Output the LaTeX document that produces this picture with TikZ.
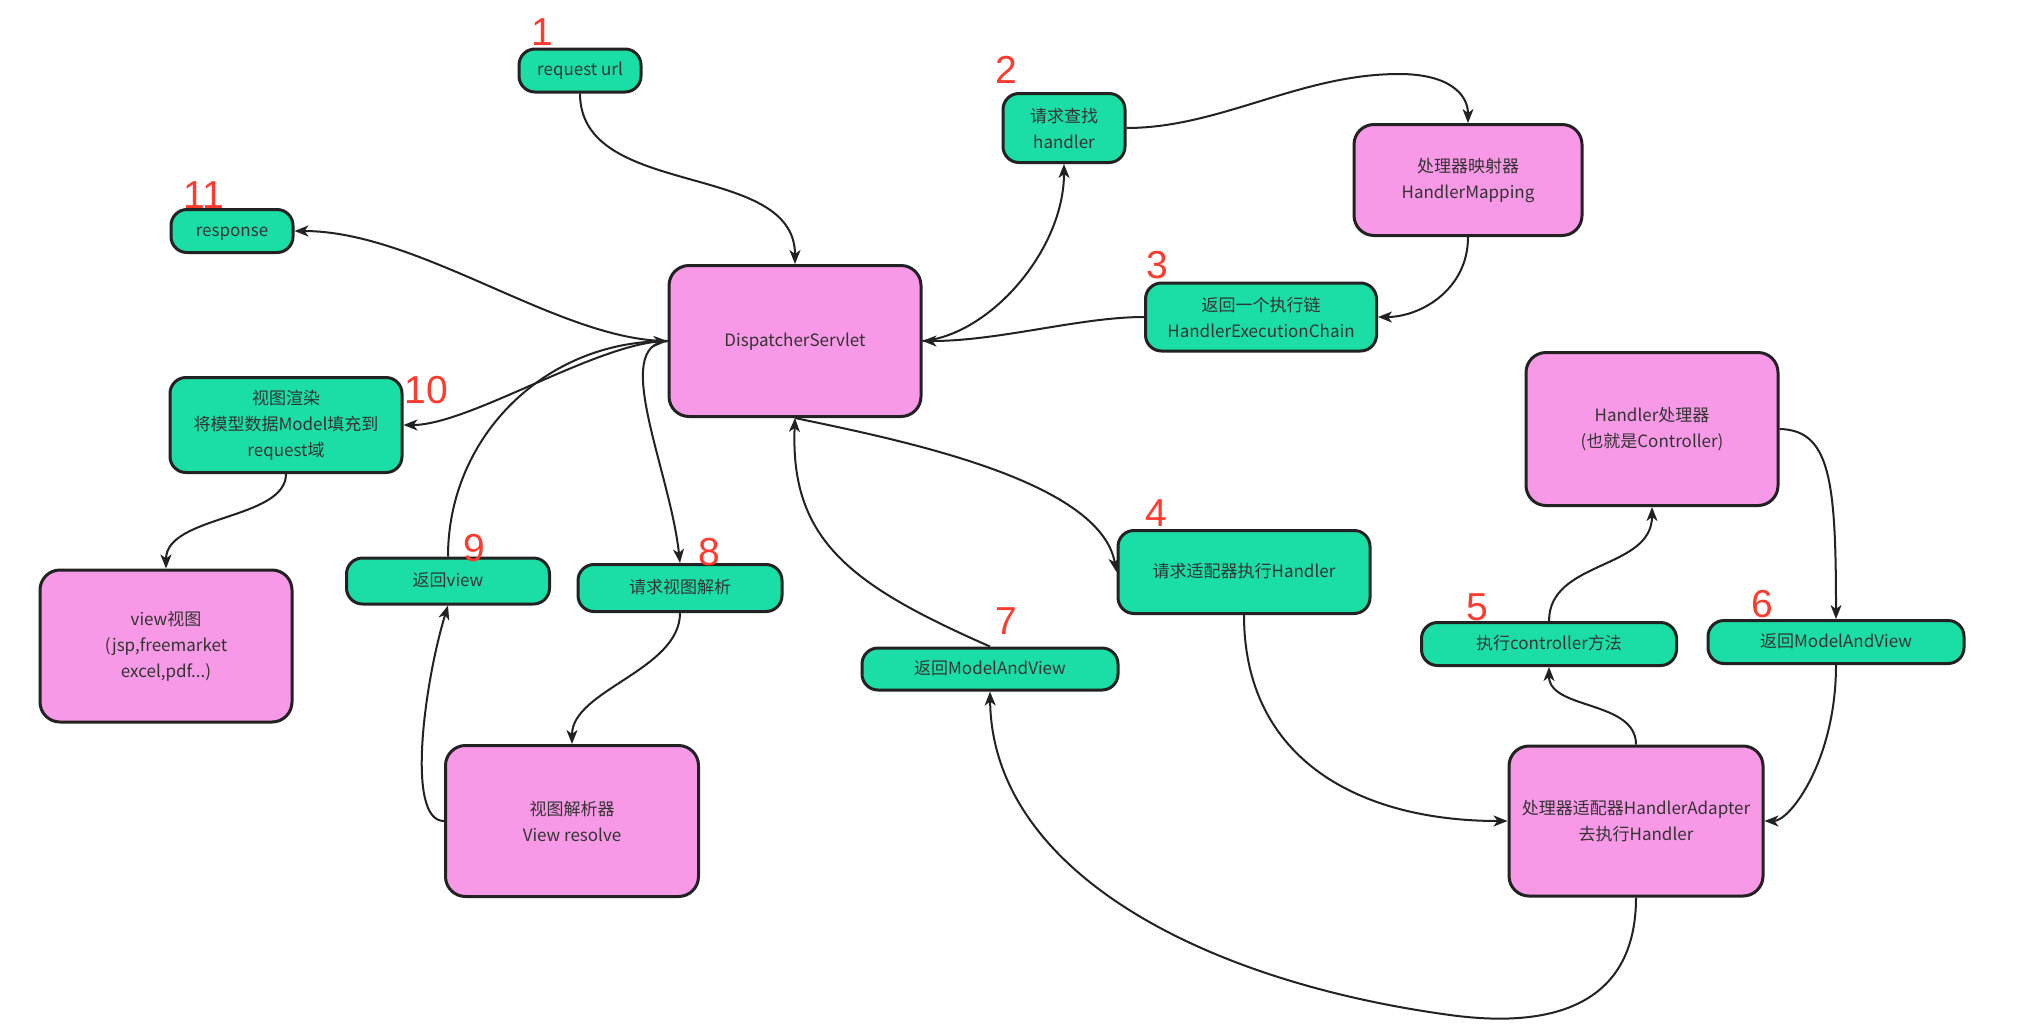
\documentclass[tikz,border=0pt]{standalone}
\usepackage{fontspec}
\usepackage{graphicx}
\setmainfont{Noto Sans CJK SC}
\newfontfamily\numfont{Liberation Sans}
\usetikzlibrary{arrows.meta}
\definecolor{mint}{RGB}{26,222,165}
\definecolor{pinkb}{RGB}{247,153,230}
\definecolor{numred}{RGB}{255,59,48}
\definecolor{ink}{RGB}{34,34,34}
\definecolor{txt}{RGB}{51,51,51}
\begin{document}
\begin{tikzpicture}[x=1pt,y=-1pt,
 box/.style={draw=ink, line width=3pt, align=center, font=\fontsize{17}{26}\selectfont, text=txt, inner sep=0pt},
 gbox/.style={box, fill=mint, rounded corners=16pt},
 pbox/.style={box, fill=pinkb, rounded corners=20pt},
 oneline/.style={execute at begin node=\strut},
 num/.style={text=numred, font=\fontsize{39}{39}\numfont, inner sep=0pt},
 link/.style={draw=ink, line width=2pt, -{Stealth[length=14pt,width=11pt,inset=4pt]}},
]
\fill[white] (0,0) rectangle (2033,1034);
\useasboundingbox (0,0) rectangle (2033,1034);

\node[gbox, oneline, minimum width=122pt, minimum height=43pt] (req) at (580,70.5) {request url};
\node[gbox, minimum width=122pt, minimum height=69pt] (hq) at (1064,128) {请求查找\\handler};
\node[pbox, minimum width=228pt, minimum height=111pt] (hm) at (1468,180) {处理器映射器\\HandlerMapping};
\node[gbox, minimum width=231pt, minimum height=68pt] (hec) at (1261,317) {返回一个执行链\\HandlerExecutionChain};
\node[gbox, oneline, minimum width=122pt, minimum height=43pt] (resp) at (232,231) {response};
\node[pbox, oneline, minimum width=252pt, minimum height=151pt] (ds) at (795,341) {DispatcherServlet};
\node[gbox, minimum width=232pt, minimum height=95pt] (render) at (286,425) {视图渲染\\将模型数据Model填充到\\request域};
\node[pbox, minimum width=252pt, minimum height=153pt] (hc) at (1652,429) {Handler处理器\\(也就是Controller)};
\node[pbox, minimum width=252pt, minimum height=152pt] (vv) at (166,646) {view视图\\(jsp,freemarket\\excel,pdf...)};
\node[gbox, oneline, minimum width=203pt, minimum height=46pt] (rview) at (448,581) {返回view};
\node[gbox, oneline, minimum width=204pt, minimum height=47pt] (rsv) at (680,588) {请求视图解析};
\node[gbox, oneline, minimum width=252pt, minimum height=83pt] (req4) at (1244,572) {请求适配器执行Handler};
\node[gbox, oneline, minimum width=256pt, minimum height=42pt] (mv7) at (990,669) {返回ModelAndView};
\node[gbox, oneline, minimum width=255pt, minimum height=43pt] (ecm) at (1549,644) {执行controller方法};
\node[gbox, oneline, minimum width=256pt, minimum height=43pt] (mv6) at (1836,642) {返回ModelAndView};
\node[pbox, minimum width=253pt, minimum height=151pt] (vr) at (572,821) {视图解析器\\View resolve};
\node[pbox, minimum width=254pt, minimum height=150pt] (ha) at (1636,821) {处理器适配器HandlerAdapter\\去执行Handler};

\node[num] (n1) at (542,32) {1};
\node[num] (n2) at (1006,70) {2};
\node[num] (n3) at (1157,265) {3};
\node[num] (n4) at (1156,513) {4};
\node[num] (n5) at (1477,607) {5};
\node[num] (n6) at (1762,604) {6};
\node[num] (n7) at (1006,621) {7};
\node[num] (n8) at (709,552) {8};
\node[num] (n9) at (474,548) {9};
\node[num] (n10) at (426,390) {10};
\node[num] (n11) at (204,195) {11};

\draw[link] (req.south) .. controls (580,200) and (795,160) .. (ds.north);
\draw[link] (ds.east) .. controls (990,335) and (1064,250) .. (hq.south);
\draw[link] (hq.east) .. controls (1220,128) and (1300,74) .. (1399,74) .. controls (1450,74) and (1468,95) .. (hm.north);
\draw[link] (hm.south) .. controls (1468,290) and (1420,317) .. (hec.east);
\draw[link] (hec.west) .. controls (1080,317) and (1000,341) .. (ds.east);
\draw[link] (ds.west) .. controls (560,341) and (420,231) .. (resp.east);
\draw[link] (ds.west) .. controls (600,341) and (470,425) .. (render.east);
\draw[link] (rview.north) .. controls (448,440) and (540,345) .. (ds.west);
\draw[link] (ds.west) .. controls (610,345) and (670,470) .. (rsv.north);
\draw[link] (render.south) .. controls (286,520) and (166,515) .. (vv.north);
\draw[link] (rsv.south) .. controls (680,670) and (572,690) .. (vr.north);
\draw[link] (vr.west) .. controls (405,821) and (425,680) .. (rview.south);
\draw[link] (ds.south) .. controls (900,440) and (1100,480) .. (req4.west);
\draw[link] (mv7.north) .. controls (850,585) and (790,540) .. (ds.south);
\draw[link] (req4.south) .. controls (1244,760) and (1360,821) .. (ha.west);
\draw[link] (ha.north) .. controls (1636,700) and (1549,710) .. (ecm.south);
\draw[link] (ecm.north) .. controls (1549,560) and (1652,570) .. (hc.south);
\draw[link] (hc.east) .. controls (1830,430) and (1836,480) .. (mv6.north);
\draw[link] (mv6.south) .. controls (1836,760) and (1790,821) .. (ha.east);
\draw[link] (ha.south) .. controls (1636,1000) and (1560,1030) .. (1450,1015) .. controls (1200,981) and (992,870) .. (mv7.south);
\end{tikzpicture}
\end{document}
